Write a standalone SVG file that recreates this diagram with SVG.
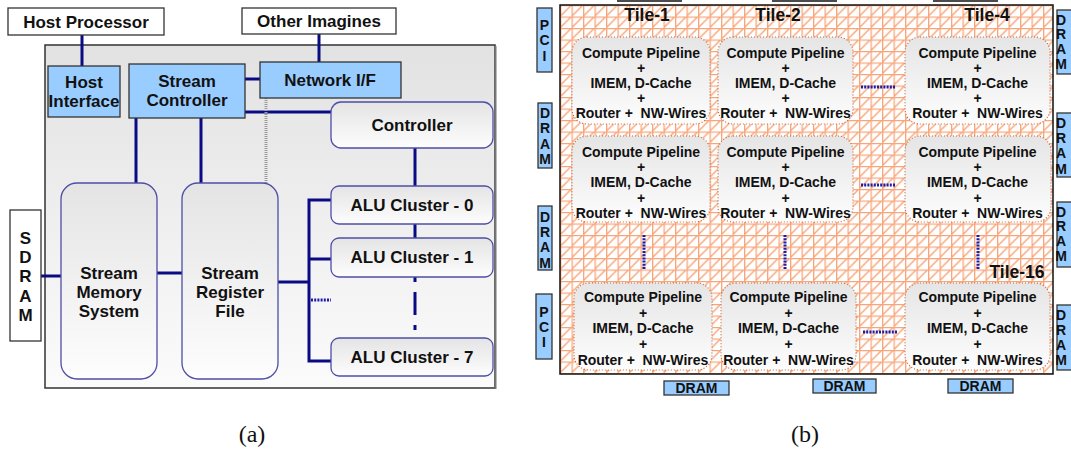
<svg xmlns="http://www.w3.org/2000/svg" width="1071" height="450" viewBox="0 0 1071 450">
  <defs>
    <linearGradient id="chipFill" x1="0" y1="0" x2="0" y2="1">
      <stop offset="0" stop-color="#e2e2e2"/>
      <stop offset="1" stop-color="#fbfbfb"/>
    </linearGradient>
    <linearGradient id="blockFill" x1="0" y1="0" x2="0" y2="1">
      <stop offset="0" stop-color="#e4e4e4"/>
      <stop offset="1" stop-color="#fdfdfd"/>
    </linearGradient>
    <linearGradient id="tileFill" x1="0" y1="0" x2="0" y2="1">
      <stop offset="0" stop-color="#e5e5e5"/>
      <stop offset="1" stop-color="#fdfdfd"/>
    </linearGradient>
    <pattern id="mesh" patternUnits="userSpaceOnUse" x="560" y="5" width="11.5" height="11.5">
      <rect width="11.5" height="11.5" fill="#ffffff"/>
      <path d="M0.6 0V11.5M0 0.6H11.5M0 11.5L11.5 0" stroke="#f7a57a" stroke-width="1.4" fill="none"/>
    </pattern>
  </defs>
  <style>
    .lbl { font-family: "Liberation Sans", Arial, sans-serif; font-weight: bold; fill: #111; text-anchor: middle; white-space: pre; }
    .big { font-size: 17px; }
    .tile { font-size: 14px; }
    .side { font-size: 14px; }
    .ttl { font-size: 17.5px; }
    .cap { font-family: "Liberation Serif", "Times New Roman", serif; font-size: 24px; fill: #111; text-anchor: middle; }
    .ext { fill: #ffffff; stroke: #333; stroke-width: 1.3; }
    .blue { fill: #99ccff; stroke: #333; stroke-width: 1.3; }
    .block { fill: url(#blockFill); stroke: #4d4da6; stroke-width: 1.3; }
    .tilebox { fill: url(#tileFill); stroke: #c8683c; stroke-width: 1.2; stroke-dasharray: 1 2; }
    .wire { stroke: #0a0a85; stroke-width: 3; fill: none; }
    .link { stroke: #1d1daa; stroke-width: 3; stroke-dasharray: 2 1.2; fill: none; }
  </style>

  <!-- (a) stream processor -->
  <rect id="chip" x="45" y="45" width="450" height="343" fill="url(#chipFill)" stroke="#333" stroke-width="1.5"/>
  <line x1="495.5" y1="46" x2="495.5" y2="389" stroke="#777" stroke-width="2"/>

  <g id="connectors-a">
    <line class="wire" x1="82" y1="35" x2="82" y2="66"/>
    <line class="wire" x1="319" y1="34" x2="319" y2="62"/>
    <line class="wire" x1="245" y1="79" x2="260" y2="79"/>
    <line class="wire" x1="245" y1="112" x2="331" y2="112"/>
    <line x1="266" y1="98" x2="266" y2="183" stroke="#9a9a9a" stroke-width="3" stroke-dasharray="1 1"/>
    <line class="wire" x1="136" y1="118" x2="136" y2="183"/>
    <line class="wire" x1="201" y1="118" x2="201" y2="183"/>
    <line class="wire" x1="41" y1="276" x2="61" y2="276"/>
    <line class="wire" x1="157" y1="273" x2="182" y2="273"/>
    <line class="wire" x1="278" y1="282" x2="309" y2="282"/>
    <path class="wire" d="M331 200H309V361H331M309 259H331"/>
    <line class="link" x1="311" y1="300" x2="331" y2="300"/>
    <line class="wire" x1="415" y1="148" x2="415" y2="186"/>
    <line class="wire" x1="415" y1="224" x2="415" y2="238"/>
    <line class="wire" x1="415" y1="277" x2="415" y2="333" stroke-dasharray="5 10 23 10"/>
  </g>

  <g id="host-processor">
    <rect class="ext" x="8" y="8" width="156" height="27"/>
    <text class="lbl big" x="86" y="27.5">Host Processor</text>
  </g>
  <g id="other-imagines">
    <rect class="ext" x="242" y="8" width="154" height="26"/>
    <text class="lbl big" x="319" y="27">Other Imagines</text>
  </g>
  <g id="host-interface">
    <rect class="blue" x="48" y="66" width="72" height="51"/>
    <text class="lbl big" x="84" y="88">Host</text>
    <text class="lbl big" x="84" y="107">Interface</text>
  </g>
  <g id="stream-controller">
    <rect class="blue" x="129" y="64" width="116" height="54"/>
    <text class="lbl big" x="187" y="87">Stream</text>
    <text class="lbl big" x="187" y="106">Controller</text>
  </g>
  <g id="network-if">
    <rect class="blue" x="260" y="62" width="141" height="36"/>
    <text class="lbl big" x="330" y="86">Network I/F</text>
  </g>
  <g id="controller">
    <rect class="block" x="331" y="102" width="162" height="46" rx="10"/>
    <text class="lbl big" x="412" y="131">Controller</text>
  </g>
  <g id="sdram">
    <rect class="ext" x="10" y="210" width="31" height="131"/>
    <text class="lbl big" x="25.5" y="244">S</text>
    <text class="lbl big" x="25.5" y="263">D</text>
    <text class="lbl big" x="25.5" y="282">R</text>
    <text class="lbl big" x="25.5" y="302">A</text>
    <text class="lbl big" x="25.5" y="321">M</text>
  </g>
  <g id="stream-memory-system">
    <rect class="block" x="61" y="183" width="96" height="196" rx="16"/>
    <text class="lbl big" x="109" y="279">Stream</text>
    <text class="lbl big" x="109" y="298">Memory</text>
    <text class="lbl big" x="109" y="317">System</text>
  </g>
  <g id="stream-register-file">
    <rect class="block" x="182" y="183" width="96" height="196" rx="16"/>
    <text class="lbl big" x="230" y="279">Stream</text>
    <text class="lbl big" x="230" y="298">Register</text>
    <text class="lbl big" x="230" y="317">File</text>
  </g>
  <g id="alu-cluster-0">
    <rect class="block" x="331" y="186" width="162" height="38" rx="8"/>
    <text class="lbl big" x="412" y="211">ALU Cluster - 0</text>
  </g>
  <g id="alu-cluster-1">
    <rect class="block" x="331" y="238" width="162" height="39" rx="8"/>
    <text class="lbl big" x="412" y="263">ALU Cluster - 1</text>
  </g>
  <g id="alu-cluster-7">
    <rect class="block" x="331" y="338" width="162" height="38" rx="8"/>
    <text class="lbl big" x="412" y="363">ALU Cluster - 7</text>
  </g>

  <text class="cap" x="252" y="442">(a)</text>

  <!-- (b) tiled mesh -->
  <rect id="mesh-area" x="560" y="5" width="493" height="369" fill="url(#mesh)" stroke="#111" stroke-width="1.5"/>
  <path d="M617 1H682M772 1H837M933 1H998" stroke="#111" stroke-width="1.5"/>

  <g id="connectors-b">
    <line class="link" x1="861" y1="87" x2="896" y2="87"/>
    <line class="link" x1="861" y1="185" x2="896" y2="185"/>
    <line class="link" x1="863" y1="332" x2="898" y2="332"/>
    <line class="link" x1="644" y1="235" x2="644" y2="269"/>
    <line class="link" x1="785" y1="235" x2="785" y2="269"/>
    <line class="link" x1="978" y1="235" x2="978" y2="270"/>
  </g>

  <text class="lbl ttl" x="647" y="21">Tile-1</text>
  <text class="lbl ttl" x="778" y="21">Tile-2</text>
  <text class="lbl ttl" x="987" y="21">Tile-4</text>
  <text class="lbl ttl" x="1017" y="278">Tile-16</text>

  <g id="tile-1">
    <rect class="tilebox" x="572" y="37" width="138" height="87" rx="15"/>
    <text class="lbl tile" x="641" y="57.5">Compute Pipeline</text>
    <text class="lbl tile" x="641" y="72.5">+</text>
    <text class="lbl tile" x="641" y="87.5">IMEM, D-Cache</text>
    <text class="lbl tile" x="641" y="103">+</text>
    <text class="lbl tile" x="641" y="118">Router +  NW-Wires</text>
  </g>
  <g id="tile-2">
    <rect class="tilebox" x="718" y="37" width="135" height="87" rx="15"/>
    <text class="lbl tile" x="785.5" y="57.5">Compute Pipeline</text>
    <text class="lbl tile" x="785.5" y="72.5">+</text>
    <text class="lbl tile" x="785.5" y="87.5">IMEM, D-Cache</text>
    <text class="lbl tile" x="785.5" y="103">+</text>
    <text class="lbl tile" x="785.5" y="118">Router +  NW-Wires</text>
  </g>
  <g id="tile-4">
    <rect class="tilebox" x="905" y="37" width="145" height="87" rx="15"/>
    <text class="lbl tile" x="977.5" y="57.5">Compute Pipeline</text>
    <text class="lbl tile" x="977.5" y="72.5">+</text>
    <text class="lbl tile" x="977.5" y="87.5">IMEM, D-Cache</text>
    <text class="lbl tile" x="977.5" y="103">+</text>
    <text class="lbl tile" x="977.5" y="118">Router +  NW-Wires</text>
  </g>
  <g id="tile-5">
    <rect class="tilebox" x="572" y="136" width="138" height="86" rx="15"/>
    <text class="lbl tile" x="641" y="157">Compute Pipeline</text>
    <text class="lbl tile" x="641" y="172">+</text>
    <text class="lbl tile" x="641" y="187">IMEM, D-Cache</text>
    <text class="lbl tile" x="641" y="202.5">+</text>
    <text class="lbl tile" x="641" y="217.5">Router +  NW-Wires</text>
  </g>
  <g id="tile-6">
    <rect class="tilebox" x="718" y="136" width="135" height="86" rx="15"/>
    <text class="lbl tile" x="785.5" y="157">Compute Pipeline</text>
    <text class="lbl tile" x="785.5" y="172">+</text>
    <text class="lbl tile" x="785.5" y="187">IMEM, D-Cache</text>
    <text class="lbl tile" x="785.5" y="202.5">+</text>
    <text class="lbl tile" x="785.5" y="217.5">Router +  NW-Wires</text>
  </g>
  <g id="tile-8">
    <rect class="tilebox" x="905" y="136" width="146" height="86" rx="15"/>
    <text class="lbl tile" x="977.5" y="157">Compute Pipeline</text>
    <text class="lbl tile" x="977.5" y="172">+</text>
    <text class="lbl tile" x="977.5" y="187">IMEM, D-Cache</text>
    <text class="lbl tile" x="977.5" y="202.5">+</text>
    <text class="lbl tile" x="977.5" y="217.5">Router +  NW-Wires</text>
  </g>
  <g id="tile-13">
    <rect class="tilebox" x="574" y="283" width="138" height="87" rx="15"/>
    <text class="lbl tile" x="643" y="302">Compute Pipeline</text>
    <text class="lbl tile" x="643" y="317.5">+</text>
    <text class="lbl tile" x="643" y="333">IMEM, D-Cache</text>
    <text class="lbl tile" x="643" y="349">+</text>
    <text class="lbl tile" x="643" y="364.5">Router +  NW-Wires</text>
  </g>
  <g id="tile-14">
    <rect class="tilebox" x="721" y="283" width="135" height="87" rx="15"/>
    <text class="lbl tile" x="788.5" y="302">Compute Pipeline</text>
    <text class="lbl tile" x="788.5" y="317.5">+</text>
    <text class="lbl tile" x="788.5" y="333">IMEM, D-Cache</text>
    <text class="lbl tile" x="788.5" y="349">+</text>
    <text class="lbl tile" x="788.5" y="364.5">Router +  NW-Wires</text>
  </g>
  <g id="tile-16">
    <rect class="tilebox" x="905" y="283" width="145" height="87" rx="15"/>
    <text class="lbl tile" x="977.5" y="302">Compute Pipeline</text>
    <text class="lbl tile" x="977.5" y="317.5">+</text>
    <text class="lbl tile" x="977.5" y="333">IMEM, D-Cache</text>
    <text class="lbl tile" x="977.5" y="349">+</text>
    <text class="lbl tile" x="977.5" y="364.5">Router +  NW-Wires</text>
  </g>

  <!-- I/O ports around the mesh -->
  <g id="pci-top">
    <rect class="blue" x="537" y="8" width="15" height="64"/>
    <text class="lbl side" x="544.5" y="30">P</text>
    <text class="lbl side" x="544.5" y="45">C</text>
    <text class="lbl side" x="544.5" y="61">I</text>
  </g>
  <g id="dram-left-1">
    <rect class="blue" x="538" y="103" width="14" height="65"/>
    <text class="lbl side" x="545" y="118">D</text>
    <text class="lbl side" x="545" y="133">R</text>
    <text class="lbl side" x="545" y="149">A</text>
    <text class="lbl side" x="545" y="164">M</text>
  </g>
  <g id="dram-left-2">
    <rect class="blue" x="538" y="206" width="14" height="64"/>
    <text class="lbl side" x="545" y="222">D</text>
    <text class="lbl side" x="545" y="237">R</text>
    <text class="lbl side" x="545" y="252">A</text>
    <text class="lbl side" x="545" y="268">M</text>
  </g>
  <g id="pci-bottom">
    <rect class="blue" x="536" y="294" width="16" height="65"/>
    <text class="lbl side" x="544" y="317">P</text>
    <text class="lbl side" x="544" y="332">C</text>
    <text class="lbl side" x="544" y="347">I</text>
  </g>
  <g id="dram-right-1">
    <rect class="blue" x="1057" y="10" width="20" height="64"/>
    <text class="lbl side" x="1061" y="25" text-anchor="start">D</text>
    <text class="lbl side" x="1061" y="39" text-anchor="start">R</text>
    <text class="lbl side" x="1061" y="54" text-anchor="start">A</text>
    <text class="lbl side" x="1061" y="69" text-anchor="start">M</text>
  </g>
  <g id="dram-right-2">
    <rect class="blue" x="1057" y="113" width="20" height="64"/>
    <text class="lbl side" x="1061" y="128" text-anchor="start">D</text>
    <text class="lbl side" x="1061" y="143" text-anchor="start">R</text>
    <text class="lbl side" x="1061" y="158" text-anchor="start">A</text>
    <text class="lbl side" x="1061" y="174" text-anchor="start">M</text>
  </g>
  <g id="dram-right-3">
    <rect class="blue" x="1057" y="202" width="20" height="65"/>
    <text class="lbl side" x="1061" y="217" text-anchor="start">D</text>
    <text class="lbl side" x="1061" y="231" text-anchor="start">R</text>
    <text class="lbl side" x="1061" y="246" text-anchor="start">A</text>
    <text class="lbl side" x="1061" y="261" text-anchor="start">M</text>
  </g>
  <g id="dram-right-4">
    <rect class="blue" x="1057" y="305" width="20" height="65"/>
    <text class="lbl side" x="1061" y="320" text-anchor="start">D</text>
    <text class="lbl side" x="1061" y="335" text-anchor="start">R</text>
    <text class="lbl side" x="1061" y="350" text-anchor="start">A</text>
    <text class="lbl side" x="1061" y="365" text-anchor="start">M</text>
  </g>
  <g id="dram-bottom-1">
    <rect class="blue" x="664" y="381" width="65" height="14"/>
    <text class="lbl side" x="696.5" y="393">DRAM</text>
  </g>
  <g id="dram-bottom-2">
    <rect class="blue" x="813" y="379" width="63" height="14"/>
    <text class="lbl side" x="844.5" y="391">DRAM</text>
  </g>
  <g id="dram-bottom-3">
    <rect class="blue" x="948" y="379" width="65" height="14"/>
    <text class="lbl side" x="980.5" y="391">DRAM</text>
  </g>

  <text class="cap" x="805" y="442">(b)</text>
</svg>
